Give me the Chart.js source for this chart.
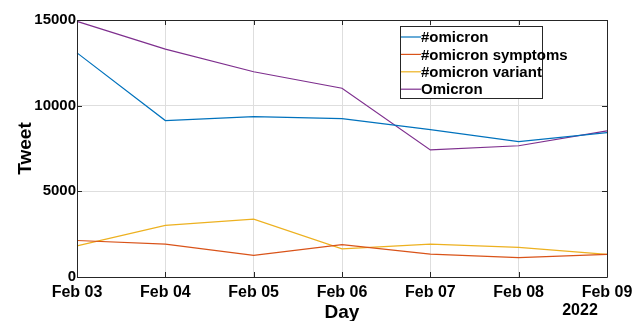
<!DOCTYPE html>
<html>
<head>
<meta charset="utf-8">
<script src="https://cdn.jsdelivr.net/npm/chart.js@4.4.1/dist/chart.umd.min.js"></script>
<style>
  html, body { margin: 0; padding: 0; background: #ffffff; }
  #wrap { width: 644px; height: 321px; }
</style>
</head>
<body>
<div id="wrap"><canvas id="c" width="644" height="321"></canvas></div>
<script>
// Daily tweet counts per search term, 3-9 February 2022
const days = ['Feb 03', 'Feb 04', 'Feb 05', 'Feb 06', 'Feb 07', 'Feb 08', 'Feb 09'];
const hashOmicron = [13080, 9130, 9360, 9240, 8600, 7900, 8430];
const hashOmicronSymptoms = [2130, 1920, 1260, 1890, 1330, 1130, 1320];
const hashOmicronVariant = [1820, 3010, 3380, 1640, 1920, 1730, 1320];
const omicronPlain = [14920, 13300, 11980, 11015, 7420, 7660, 8530];
const yTicks = [0, 5000, 10000, 15000];

const seriesNames = ['#omicron', '#omicron symptoms', '#omicron variant', 'Omicron'];
const seriesData = [hashOmicron, hashOmicronSymptoms, hashOmicronVariant, omicronPlain];
const seriesColors = ['#0072BD', '#D95319', '#EDB120', '#7E2F8E'];

const FONT = '"Liberation Sans", Arial, Helvetica, sans-serif';
const AXIS_COLOR = '#262626';

// Box, inward tick marks, axis titles and the legend
const decorations = {
  id: 'decorations',
  afterDraw(chart) {
    const ctx = chart.ctx;
    const a = chart.chartArea;
    const xs = chart.scales.x;
    const ys = chart.scales.y;
    const tl = 5;
    ctx.save();

    // axes box
    ctx.strokeStyle = AXIS_COLOR;
    ctx.lineWidth = 1;
    ctx.beginPath();
    ctx.moveTo(a.left + 0.5, a.top + 0.5);
    ctx.lineTo(a.right + 0.5, a.top + 0.5);
    ctx.lineTo(a.right + 0.5, a.bottom + 0.5);
    ctx.lineTo(a.left + 0.5, a.bottom + 0.5);
    ctx.closePath();
    ctx.stroke();

    // inward ticks on all four sides
    ctx.beginPath();
    xs.ticks.forEach((t, i) => {
      const px = Math.round(xs.getPixelForTick(i)) + 0.5;
      ctx.moveTo(px, a.bottom); ctx.lineTo(px, a.bottom - tl);
      ctx.moveTo(px, a.top); ctx.lineTo(px, a.top + tl);
    });
    ys.ticks.forEach((t, i) => {
      const py = Math.round(ys.getPixelForTick(i)) + 0.5;
      ctx.moveTo(a.left, py); ctx.lineTo(a.left + tl, py);
      ctx.moveTo(a.right, py); ctx.lineTo(a.right - tl, py);
    });
    ctx.stroke();

    // axis titles
    ctx.fillStyle = '#000';
    ctx.font = 'bold 19px ' + FONT;
    ctx.textAlign = 'center';
    ctx.textBaseline = 'alphabetic';
    ctx.fillText('Day', (a.left + a.right) / 2, 318);
    ctx.save();
    ctx.translate(31, (a.top + a.bottom) / 2);
    ctx.rotate(-Math.PI / 2);
    ctx.fillText('Tweet', 0, 0);
    ctx.restore();

    // year under the last date
    ctx.font = 'bold 16px ' + FONT;
    ctx.textAlign = 'center';
    ctx.fillText('2022', 580, 315);

    // legend
    const lx = 400, ly = 26, lw = 142, lh = 72;
    ctx.fillStyle = '#fff';
    ctx.fillRect(lx, ly, lw, lh);
    ctx.strokeStyle = AXIS_COLOR;
    ctx.lineWidth = 1;
    ctx.strokeRect(lx + 0.5, ly + 0.5, lw, lh);
    ctx.font = 'bold 15px ' + FONT;
    ctx.textAlign = 'left';
    ctx.textBaseline = 'middle';
    chart.data.datasets.forEach((ds, i) => {
      const cy = 37 + i * 17.4;
      ctx.strokeStyle = ds.borderColor;
      ctx.lineWidth = 1.2;
      ctx.beginPath();
      ctx.moveTo(401, cy);
      ctx.lineTo(421, cy);
      ctx.stroke();
      ctx.fillStyle = '#000';
      ctx.fillText(ds.label, 421, cy + 1);
    });
    ctx.restore();
  }
};

new Chart(document.getElementById('c'), {
  type: 'line',
  data: {
    labels: days,
    datasets: seriesNames.map((name, i) => ({
      label: name,
      data: seriesData[i],
      borderColor: seriesColors[i],
      backgroundColor: seriesColors[i],
      borderWidth: 1.2,
      pointRadius: 0,
      tension: 0,
      fill: false
    }))
  },
  options: {
    responsive: false,
    devicePixelRatio: 1,
    animation: false,
    layout: { padding: { top: 20, right: 37, left: 0, bottom: 0 } },
    plugins: {
      legend: { display: false },
      tooltip: { enabled: false }
    },
    scales: {
      x: {
        type: 'category',
        offset: false,
        border: { display: false },
        grid: { color: '#dedede', lineWidth: 1, drawTicks: false },
        ticks: {
          color: '#000',
          font: { family: FONT, size: 16, weight: 'bold' },
          padding: 6,
          maxRotation: 0,
          autoSkip: false
        },
        afterFit(scale) { scale.height = 44; }
      },
      y: {
        min: 0,
        max: 15000,
        border: { display: false },
        grid: { color: '#dedede', lineWidth: 1, drawTicks: false },
        afterBuildTicks(scale) { scale.ticks = yTicks.map(v => ({ value: v })); },
        ticks: {
          color: '#000',
          font: { family: FONT, size: 15, weight: 'bold' },
          padding: 1,
          callback: v => String(v)
        },
        afterFit(scale) { scale.width = 77; }
      }
    }
  },
  plugins: [decorations]
});
</script>
</body>
</html>
